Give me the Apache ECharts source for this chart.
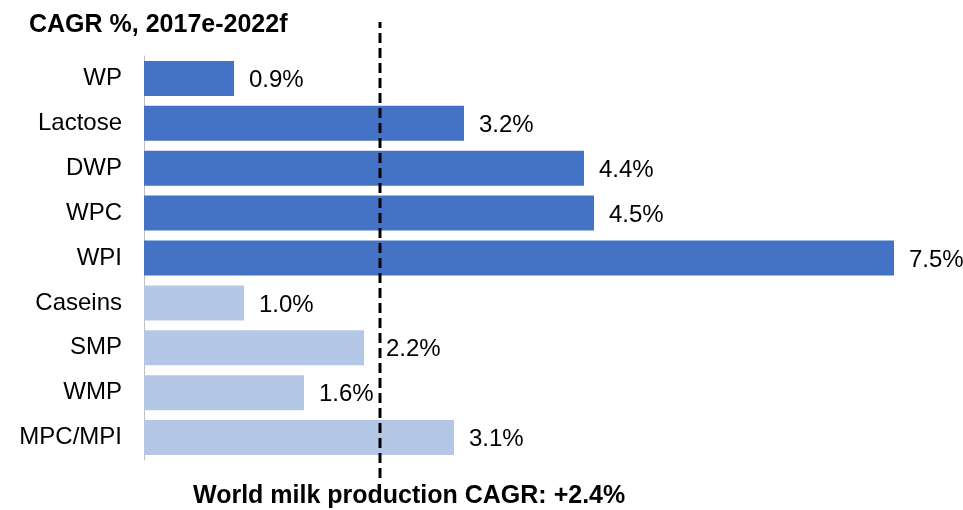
<!DOCTYPE html>
<html><head><meta charset="utf-8">
<script src="https://cdn.jsdelivr.net/npm/echarts@6/dist/echarts.min.js"></script>
<style>html,body{margin:0;padding:0;background:#fff}#c{width:963px;height:510px}</style>
</head><body><div id="c"></div>
<script>
var titleText = 'CAGR %, 2017e-2022f';
var categories = ['WP','Lactose','DWP','WPC','WPI','Caseins','SMP','WMP','MPC/MPI'];
var values = [0.9, 3.2, 4.4, 4.5, 7.5, 1.0, 2.2, 1.6, 3.1];
var groups = ['whey','whey','whey','whey','whey','other','other','other','other'];
var worldMilkCagr = 2.4;
var worldMilkLinePos = 2.36;
var xMin = 0, xMax = 8;

var FONT = '"Liberation Sans", Arial, sans-serif';
var colorMap = {whey:'#4472C4', other:'#B4C7E7'};
var chart = echarts.init(document.getElementById('c'), null, {renderer:'canvas'});
var barData = values.map(function(v,i){
  var item = {value:v, itemStyle:{color:colorMap[groups[i]]}};
  if (categories[i] === 'SMP') item.label = {offset:[7,2]};
  return item;
});
chart.setOption({
  animation:false,
  backgroundColor:'#fff',
  title:[{text:titleText,left:24,top:8,textStyle:{fontFamily:FONT,fontSize:25,fontWeight:'bold',color:'#000'}},
         {text:'World milk production CAGR: +' + worldMilkCagr.toFixed(1) + '%',left:188,top:479,textStyle:{fontFamily:FONT,fontSize:25,fontWeight:'bold',color:'#000'}}],
  grid:[{left:144,right:19,top:56,bottom:50},{left:144,right:19,top:22,bottom:32}],
  xAxis:[{type:'value',gridIndex:0,min:xMin,max:xMax,show:false},
         {type:'value',gridIndex:1,min:xMin,max:xMax,show:false}],
  yAxis:[{type:'category',gridIndex:0,data:categories,inverse:true,
          axisLine:{show:true,lineStyle:{color:'#BFBFBF',width:1}},axisTick:{show:false},
          axisLabel:{fontFamily:FONT,fontSize:24,color:'#000',margin:22}},
         {type:'value',gridIndex:1,min:0,max:1,show:false}],
  series:[{type:'bar',xAxisIndex:0,yAxisIndex:0,data:barData,barCategoryGap:'22%',
           label:{show:true,position:'right',distance:15,offset:[0,2],fontFamily:FONT,fontSize:24,color:'#000',
                  formatter:function(p){return p.value.toFixed(1)+'%';}}},
          {type:'line',xAxisIndex:1,yAxisIndex:1,symbol:'none',silent:true,
           data:[[worldMilkLinePos,0],[worldMilkLinePos,1]],
           lineStyle:{color:'#000',width:3,type:[10,5]}}]
});
</script></body></html>
